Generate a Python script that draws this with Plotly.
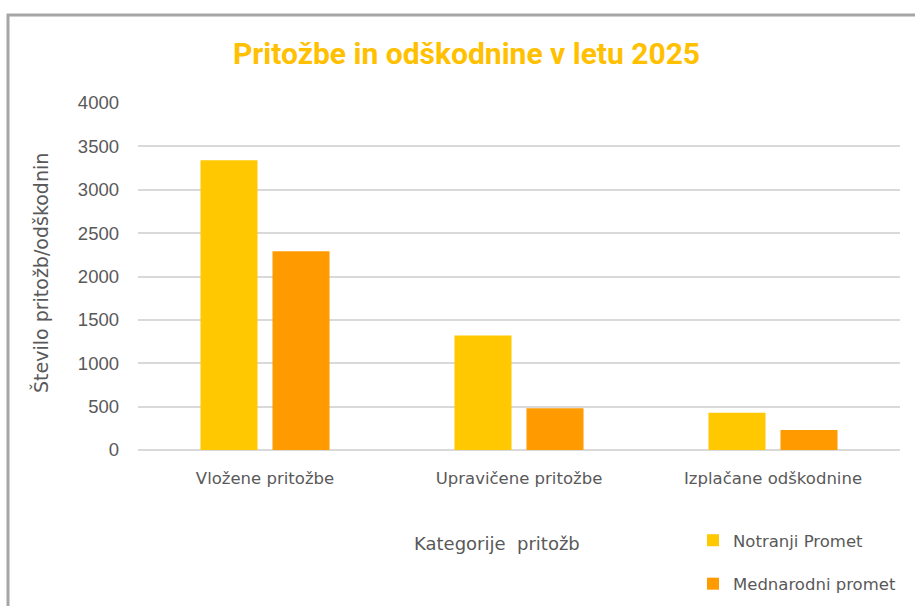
import plotly.graph_objects as go

categories = ["Vložene pritožbe", "Upravičene pritožbe", "Izplačane odškodnine"]
notranji = [3340, 1320, 430]
mednarodni = [2290, 480, 230]
series_names = ["Notranji Promet", "Mednarodni promet"]
y_ticks = [0, 500, 1000, 1500, 2000, 2500, 3000, 3500, 4000]

W, H = 915, 606
L, R, T, B = 138, 15, 103, 156
pw, ph = W - L - R, H - T - B
TXT = "#595959"

def px(x):
    return (x - L) / pw

def py(y):
    return (H - B - y) / ph

fig = go.Figure()
fig.add_trace(go.Bar(x=categories, y=notranji, name=series_names[0],
                     marker=dict(color="#FFC800", line=dict(width=0)),
                     legendgroup="a"))
fig.add_trace(go.Bar(x=categories, y=mednarodni, name=series_names[1],
                     marker=dict(color="#FF9A00", line=dict(width=0)),
                     legendgroup="b"))

fig.update_layout(
    width=W, height=H,
    margin=dict(l=L, r=R, t=T, b=B, autoexpand=False),
    paper_bgcolor="white", plot_bgcolor="white",
    barmode="group", bargap=0.433, bargroupgap=0.208,
    showlegend=True,
    legend=dict(x=px(693), y=py(523), xanchor="left", yanchor="top",
                orientation="v", traceorder="grouped", tracegroupgap=19,
                font=dict(family="DejaVu Sans", size=16.5, color=TXT),
                itemwidth=30, bgcolor="rgba(0,0,0,0)"),
    xaxis=dict(showgrid=False, showline=False, ticks="",
               tickfont=dict(family="DejaVu Sans", size=16.5, color=TXT),
               ticklabelstandoff=16),
    yaxis=dict(range=[0, 4000], tickvals=y_ticks, showline=False, ticks="",
               gridcolor="#D9D9D9", gridwidth=2, zeroline=True,
               zerolinecolor="#D9D9D9", zerolinewidth=2,
               tickfont=dict(family="Liberation Sans, Arial", size=18.5, color=TXT),
               ticklabelstandoff=18),
    font=dict(family="DejaVu Sans"),
)

fig.add_annotation(text="<b>Pritožbe in odškodnine v letu 2025</b>", xref="paper", yref="paper",
                   x=px(466), y=py(54), showarrow=False, xanchor="center", yanchor="middle",
                   font=dict(family="Roboto", size=30, color="#FFC000"))
fig.add_annotation(text="Število pritožb/odškodnin", xref="paper", yref="paper",
                   x=px(40), y=py(273), showarrow=False, textangle=-90,
                   xanchor="center", yanchor="middle",
                   font=dict(family="DejaVu Sans", size=19, color=TXT))
fig.add_annotation(text="Kategorije  pritožb", xref="paper", yref="paper",
                   x=px(497), y=py(543), showarrow=False, xanchor="center", yanchor="middle",
                   font=dict(family="DejaVu Sans", size=18, color=TXT))

fig.add_shape(type="path", xref="paper", yref="paper",
              path=f"M {px(8)},{py(620)} L {px(8)},{py(15)} L {px(930)},{py(15)}",
              line=dict(color="#A6A6A6", width=3))

fig.write_html("out.html", config={"displayModeBar": False},
               post_script="document.body.style.margin='0';")
